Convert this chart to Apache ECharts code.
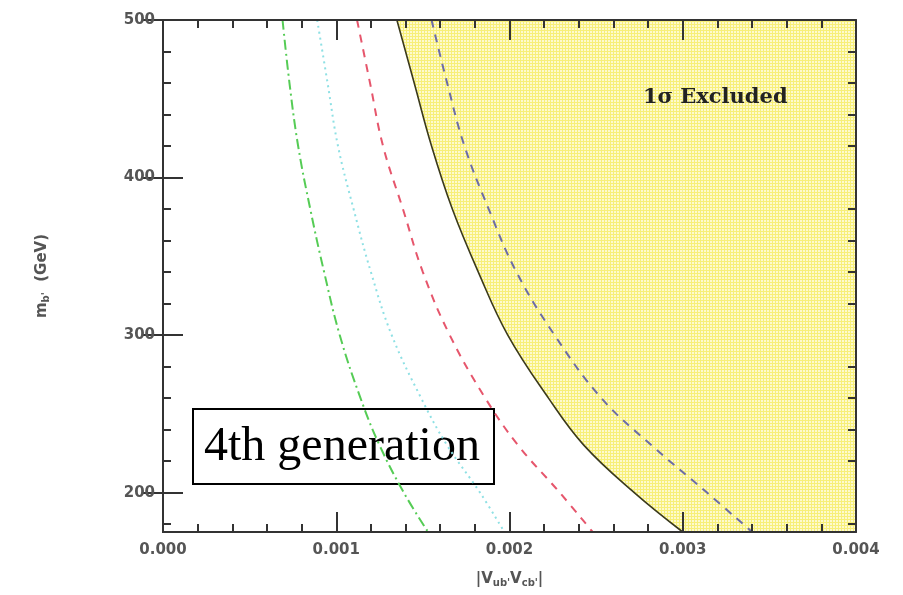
<!DOCTYPE html>
<html>
<head>
<meta charset="utf-8">
<script src="https://cdn.jsdelivr.net/npm/echarts@6/dist/echarts.min.js"></script>
<style>
  html, body { margin: 0; padding: 0; background: #fff; }
  #chart { width: 903px; height: 595px; }
</style>
</head>
<body>
<div id="chart"></div>
<script>
// b' mass grid (GeV) at which each contour is sampled
const massGeV = [500, 460, 420, 380, 340, 300, 260, 230, 200, 175];

// |V_ub' V_cb'| along each contour, one value per mass above
const excludedEdge = [0.00135, 0.00145, 0.00155, 0.00167, 0.00182, 0.00199, 0.002225, 0.00243, 0.00272, 0.00300];
const blueDashed   = [0.00155, 0.00164, 0.00174, 0.00188, 0.00204, 0.00226, 0.00253, 0.00282, 0.00314, 0.00340];
const redDashed    = [0.00112, 0.001195, 0.00127, 0.001385, 0.00150, 0.001655, 0.00186, 0.00205, 0.00229, 0.00248];
const cyanDotted   = [0.00089, 0.00095, 0.00101, 0.00110, 0.00120, 0.00132, 0.00149, 0.00164, 0.00183, 0.00197];
const greenDashDot = [0.00069, 0.00073, 0.00078, 0.00085, 0.00093, 0.00102, 0.00114, 0.00125, 0.00139, 0.00153];

// axis ranges and ticks
const xRange = [0, 0.004];
const yRange = [175, 500];
const yMajorTicks = [200, 300, 400, 500];
const yMinorTicks = [180, 220, 240, 260, 280, 320, 340, 360, 380, 420, 440, 460, 480];

function pairs(xs) { return massGeV.map((m, i) => [xs[i], m]); }

// small diagonal checker tile for the excluded region
function checkerTile() {
  const n = 6;
  const c = document.createElement('canvas');
  c.width = n; c.height = n;
  const ctx = c.getContext('2d');
  const img = ctx.createImageData(n, n);
  for (let y = 0; y < n; y++) {
    for (let x = 0; x < n; x++) {
      const a = Math.floor((x + y) / 3) + Math.floor((x - y + 12) / 3);
      const dark = a % 2 === 0;
      const k = (y * n + x) * 4;
      if (dark) { img.data[k] = 247; img.data[k + 1] = 239; img.data[k + 2] = 120; }
      else { img.data[k] = 253; img.data[k + 1] = 250; img.data[k + 2] = 205; }
      img.data[k + 3] = 255;
    }
  }
  ctx.putImageData(img, 0, 0);
  return c;
}
const tile = checkerTile();

const chart = echarts.init(document.getElementById('chart'), null, { renderer: 'canvas' });

const tickFont = { fontFamily: 'DejaVu Sans', fontWeight: 'bold', fontSize: 15, color: '#555' };
const axisLine = { show: true, lineStyle: { color: '#333', width: 2 } };

function xAxisDef(pos, labels) {
  return {
    type: 'value', position: pos, min: xRange[0], max: xRange[1], interval: 0.001, z: 10,
    axisLine: axisLine,
    axisTick: { show: true, inside: true, length: 20, lineStyle: { color: '#333', width: 2 } },
    minorTick: { show: true, splitNumber: 5, length: 8, lineStyle: { color: '#333', width: 2 } },
    splitLine: { show: false }, minorSplitLine: { show: false },
    axisLabel: labels ? Object.assign({ show: true, margin: 11, formatter: v => v.toFixed(3) }, tickFont) : { show: false }
  };
}

function yAxisDef(pos, values, len, labels) {
  return {
    type: 'value', position: pos, min: yRange[0], max: yRange[1], z: 10,
    axisLine: axisLine,
    axisTick: { show: true, inside: true, length: len, customValues: values, lineStyle: { color: '#333', width: 2 } },
    splitLine: { show: false },
    axisLabel: labels ? Object.assign({ show: true, margin: 8, customValues: values }, tickFont) : { show: false }
  };
}

const xA = [xAxisDef('bottom', true), xAxisDef('top', false)];
xA[0].name = '|V{s|ub\'}V{s|cb\'}|';
xA[0].nameLocation = 'middle';
xA[0].nameGap = 38;
xA[0].nameTextStyle = {
  fontFamily: 'DejaVu Sans', fontWeight: 'bold', fontSize: 15, color: '#555',
  rich: { s: { fontFamily: 'DejaVu Sans', fontWeight: 'bold', fontSize: 10, color: '#555', verticalAlign: 'bottom', padding: [8, 0, 0, 0] } }
};

const yA = [
  yAxisDef('left', yMajorTicks, 20, true),
  yAxisDef('right', yMajorTicks, 20, false),
  yAxisDef('left', yMinorTicks, 8, false),
  yAxisDef('right', yMinorTicks, 8, false)
];
yA[0].name = 'm{s|b\'}  (GeV)';
yA[0].nameLocation = 'middle';
yA[0].nameRotate = 90;
yA[0].nameGap = 112;
yA[0].nameTextStyle = {
  fontFamily: 'DejaVu Sans', fontWeight: 'bold', fontSize: 15, color: '#555',
  rich: { s: { fontFamily: 'DejaVu Sans', fontWeight: 'bold', fontSize: 10, color: '#555', padding: [8, 0, 0, 0] } }
};

function contour(name, xs, color, dash, width) {
  return {
    name, type: 'line', data: pairs(xs), showSymbol: false, symbol: 'none',
    smooth: 0.4, z: 3, silent: true,
    lineStyle: { color, width, type: dash }
  };
}

function fillAbove(name, data) {
  return {
    name, type: 'line', data, showSymbol: false, symbol: 'none', smooth: 0.4, z: 1, silent: true,
    lineStyle: { width: 0, opacity: 0 },
    areaStyle: { origin: 'end', opacity: 1, color: { image: tile, repeat: 'repeat' } }
  };
}

const edgeEnd = excludedEdge[excludedEdge.length - 1];

chart.setOption({
  animation: false,
  backgroundColor: '#fff',
  grid: { left: 163, right: 47, top: 20, bottom: 63, containLabel: false },
  xAxis: xA,
  yAxis: yA,
  series: [
    // excluded region: above the edge curve, then the full band to its right
    fillAbove('excluded region', pairs(excludedEdge)),
    fillAbove('excluded band', [[edgeEnd, yRange[0]], [xRange[1], yRange[0]]]),
    contour('1 sigma edge', excludedEdge, '#3b3a1c', 'solid', 1.6),
    contour('blue', blueDashed, '#6c6ca6', [8, 7], 2),
    contour('red', redDashed, '#e6566c', [8, 7], 2),
    contour('cyan', cyanDotted, '#8ee0e4', [2, 4], 2),
    contour('green', greenDashDot, '#55cc55', [10, 4, 2, 4], 2)
  ]
});

const labelPos = chart.convertToPixel({ gridIndex: 0 }, [0.00277, 449]);

chart.setOption({
  graphic: [
    {
      type: 'text', left: labelPos[0], top: labelPos[1] - 13, z: 10,
      style: { text: '1σ Excluded', fontFamily: 'DejaVu Serif', fontWeight: 'bold', fontSize: 21, fill: '#222' }
    },
    {
      type: 'group', left: 192, top: 408, z: 20,
      children: [
        { type: 'rect', shape: { x: 0, y: 0, width: 301, height: 75 }, style: { fill: 'rgba(255,255,255,0)', stroke: '#000', lineWidth: 2 } },
        { type: 'text', x: 11, y: 38, style: { text: '4th generation', fontFamily: 'Liberation Serif', fontSize: 48, fill: '#000', verticalAlign: 'middle' } }
      ]
    }
  ]
});
</script>
</body>
</html>
